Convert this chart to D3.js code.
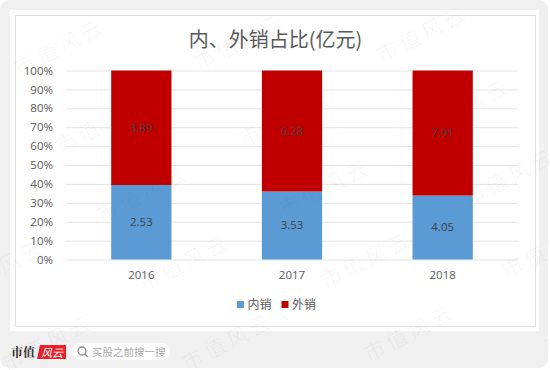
<!DOCTYPE html>
<html>
<head>
<meta charset="utf-8">
<script src="https://cdn.jsdelivr.net/npm/d3@7"></script>
<style>
  html, body { margin: 0; padding: 0; background: #fff; }
  svg { display: block; }
  text { font-family: "Open Sans", "Noto Sans CJK SC", sans-serif; }
  .cjk { font-family: "Noto Sans CJK SC", sans-serif; }
</style>
</head>
<body>
<div id="chart"></div>
<script>
const years = ["2016", "2017", "2018"]
const domestic = [2.53, 3.53, 4.05]
const overseas = [3.89, 6.28, 7.91]
const percentTicks = [0, 0.1, 0.2, 0.3, 0.4, 0.5, 0.6, 0.7, 0.8, 0.9, 1]
const legendLabels = ["内销", "外销"]
const stackKeys = ["domestic", "overseas"]

const COLORS = {
  page: "#f0f0f0",
  border: "#dfdfdf",
  grid: "#e4e4e4",
  text: "#595959",
  label: "#404040",
  domestic: "#5b9bd5",
  overseas: "#c00000"
}

// centre points of the watermark stamps, as seen on the picture
const stamps = [
  [60, 47], [240, 42], [423, 34],
  [102, 125], [285, 118], [465, 107],
  [143, 194], [325, 188], [510, 177],
  [0, 268], [185, 263], [367, 260], [548, 250],
  [48, 343], [228, 342], [410, 333], [590, 325]
]

const svg = d3.select("#chart").append("svg")
  .attr("width", 550)
  .attr("height", 370)

// Card frame
svg.append("rect")
  .attr("width", 548).attr("height", 368).attr("rx", 9)
  .attr("fill", COLORS.page)
svg.append("rect")
  .attr("x", 10).attr("y", 10).attr("width", 529).attr("height", 321)
  .attr("fill", "#fff")
svg.append("rect")
  .attr("x", 15.5).attr("y", 15.5).attr("width", 520).attr("height", 311)
  .attr("fill", "#fff")
  .attr("stroke", COLORS.border)

const x = d3.scaleBand().domain(years).range([66, 518]).paddingInner(0.6).paddingOuter(0.3)
const y = d3.scaleLinear().domain([0, 1]).range([259.5, 70.5])

// Title
svg.append("text")
  .attr("class", "cjk")
  .attr("x", 275.5).attr("y", 47)
  .attr("text-anchor", "middle")
  .attr("font-size", 20)
  .attr("fill", COLORS.text)
  .text("内、外销占比(亿元)")

// Gridlines and percent labels
const yAxis = svg.append("g")
  .attr("transform", "translate(66,0)")
  .call(d3.axisLeft(y).tickValues(percentTicks).tickFormat(d3.format(".0%")).tickSize(-452).tickPadding(13))
yAxis.select(".domain").remove()
yAxis.selectAll("line").attr("stroke", COLORS.grid).attr("stroke-width", 1)
yAxis.selectAll("text")
  .attr("font-size", 11.5)
  .attr("fill", COLORS.text)
  .attr("font-family", "Open Sans")

// Stacked bars
const rows = years.map((year, i) => {
  const total = domestic[i] + overseas[i]
  return { year, domestic: domestic[i] / total, overseas: overseas[i] / total, raw: [domestic[i], overseas[i]] }
})
const series = d3.stack().keys(stackKeys)(rows)

series.forEach((layer, k) => {
  svg.append("g").selectAll("rect")
    .data(layer)
    .join("rect")
    .attr("x", d => x(d.data.year))
    .attr("y", d => y(d[1]))
    .attr("width", x.bandwidth())
    .attr("height", d => y(d[0]) - y(d[1]))
    .attr("fill", COLORS[layer.key])

  svg.append("g").selectAll("text")
    .data(layer)
    .join("text")
    .attr("x", d => x(d.data.year) + x.bandwidth() / 2)
    .attr("y", d => (y(d[0]) + y(d[1])) / 2 + 4)
    .attr("text-anchor", "middle")
    .attr("font-size", 11.5)
    .attr("fill", COLORS.label)
    .text(d => d.data.raw[k].toFixed(2))
})

// Category labels
const xAxis = svg.append("g")
  .attr("transform", "translate(0,259.5)")
  .call(d3.axisBottom(x).tickSize(0).tickPadding(11))
xAxis.select(".domain").remove()
xAxis.selectAll("text")
  .attr("font-size", 11.5)
  .attr("fill", COLORS.text)
  .attr("font-family", "Open Sans")

// Legend
const legendX = d3.scaleOrdinal().domain(legendLabels).range([237, 281.5])
const legend = svg.append("g").selectAll("g")
  .data(legendLabels)
  .join("g")
  .attr("transform", d => `translate(${legendX(d)},0)`)
legend.append("rect")
  .attr("y", 301).attr("width", 7).attr("height", 7)
  .attr("fill", (d, i) => COLORS[stackKeys[i]])
legend.append("text")
  .attr("class", "cjk")
  .attr("x", 10.5).attr("y", 308.5)
  .attr("font-size", 12)
  .attr("fill", COLORS.text)
  .text(d => d)

// Footer logo
svg.append("text")
  .attr("x", 11).attr("y", 357)
  .attr("font-size", 12)
  .attr("font-weight", 700)
  .attr("fill", "#2a2a2a")
  .style("font-family", '"Noto Serif CJK SC", "Noto Sans CJK SC", serif')
  .text("市值")
svg.append("path")
  .attr("d", "M40 345 H66 V359 H37 Z")
  .attr("fill", "#e8212b")
svg.append("text")
  .attr("class", "cjk")
  .attr("x", 41).attr("y", 356.5)
  .attr("font-size", 11)
  .attr("font-style", "italic")
  .attr("fill", "#fff")
  .text("风云")

// Search pill
svg.append("rect")
  .attr("x", 72).attr("y", 343).attr("width", 98).attr("height", 17).attr("rx", 8.5)
  .attr("fill", "#fff")
svg.append("circle")
  .attr("cx", 82).attr("cy", 351).attr("r", 4)
  .attr("fill", "none").attr("stroke", "#8a8a8a").attr("stroke-width", 1.3)
svg.append("line")
  .attr("x1", 85).attr("y1", 354).attr("x2", 88).attr("y2", 357)
  .attr("stroke", "#8a8a8a").attr("stroke-width", 1.3)
svg.append("text")
  .attr("class", "cjk")
  .attr("x", 92).attr("y", 355.5)
  .attr("font-size", 10.5)
  .attr("fill", "#a8a8a8")
  .text("买股之前搜一搜")

// Watermark on top of everything
svg.append("g").selectAll("text")
  .data(stamps)
  .join("text")
  .attr("class", "cjk")
  .attr("transform", d => `translate(${d[0]},${d[1]}) rotate(-27)`)
  .attr("text-anchor", "middle")
  .attr("dy", "0.35em")
  .attr("font-size", 21)
  .attr("letter-spacing", 4)
  .attr("fill", "#000")
  .attr("fill-opacity", 0.035)
  .text("市值风云")
</script>
</body>
</html>
